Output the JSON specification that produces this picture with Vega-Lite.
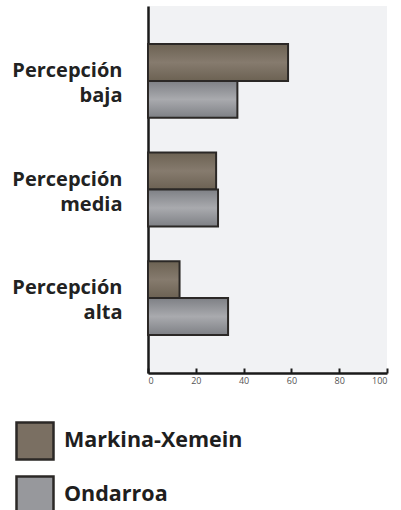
{
  "$schema": "https://vega.github.io/schema/vega-lite/v6.json",
  "width": 239,
  "height": 367,
  "autosize": {"type": "none"},
  "padding": {"left": 148, "top": 6, "right": 14, "bottom": 137},
  "background": "white",
  "config": {
    "view": {"fill": "#f1f2f4", "stroke": null},
    "font": "Open Sans"
  },
  "data": {
    "values": [
      {"cat": "Percepción baja", "serie": "Markina-Xemein", "v": 58.6},
      {"cat": "Percepción baja", "serie": "Ondarroa", "v": 37.4},
      {"cat": "Percepción media", "serie": "Markina-Xemein", "v": 28.5},
      {"cat": "Percepción media", "serie": "Ondarroa", "v": 29.3},
      {"cat": "Percepción alta", "serie": "Markina-Xemein", "v": 13.2},
      {"cat": "Percepción alta", "serie": "Ondarroa", "v": 33.5}
    ]
  },
  "encoding": {
    "y": {
      "field": "cat", "type": "nominal",
      "sort": ["Percepción baja", "Percepción media", "Percepción alta"],
      "scale": {"paddingInner": 0.32, "paddingOuter": 0.35},
      "axis": {
        "title": null, "ticks": false, "domainColor": "#1a1a1a", "domainWidth": 2.5,
        "labelFont": "Open Sans", "labelFontWeight": "bold", "labelFontSize": 20,
        "labelColor": "#222222", "labelPadding": 26, "labelLineHeight": 25,
        "labelExpr": "split(datum.label, ' ')", "labelAlign": "right", "labelBaseline": "middle",
        "labelOffset": -10
      }
    },
    "yOffset": {"field": "serie", "type": "nominal", "scale": {"domain": ["Markina-Xemein", "Ondarroa"]}},
    "x": {
      "field": "v", "type": "quantitative",
      "scale": {"domain": [0, 100], "nice": false},
      "axis": {
        "title": null, "values": [0, 20, 40, 60, 80, 100], "grid": false,
        "domainColor": "#1a1a1a", "domainWidth": 2.5, "tickColor": "#1a1a1a", "tickWidth": 2,
        "tickSize": -5, "labelPadding": 8, "labelFontSize": 9, "labelColor": "#555555",
        "labelFont": "Open Sans"
      }
    }
  },
  "layer": [
    {
      "transform": [{"filter": "datum.serie == 'Markina-Xemein'"}],
      "mark": {"type": "bar", "stroke": "#2b2826", "strokeWidth": 2, "opacity": 1,
        "color": {"gradient": "linear", "x1": 0, "y1": 0, "x2": 0, "y2": 1,
          "stops": [{"offset": 0, "color": "#6c6253"}, {"offset": 0.5, "color": "#867b6e"}, {"offset": 1, "color": "#6c6253"}]}}
    },
    {
      "transform": [{"filter": "datum.serie == 'Ondarroa'"}],
      "mark": {"type": "bar", "stroke": "#2b2826", "strokeWidth": 2, "opacity": 1,
        "color": {"gradient": "linear", "x1": 0, "y1": 0, "x2": 0, "y2": 1,
          "stops": [{"offset": 0, "color": "#7e8085"}, {"offset": 0.5, "color": "#a9aaae"}, {"offset": 1, "color": "#7e8085"}]}}
    },
    {
      "mark": {"type": "point", "filled": true, "size": 0, "opacity": 0},
      "encoding": {
        "color": {
          "field": "serie", "type": "nominal",
          "scale": {"domain": ["Markina-Xemein", "Ondarroa"], "range": ["#7a6f62", "#97989c"]},
          "legend": {
            "title": null, "orient": "none", "legendX": -133, "legendY": 415,
            "symbolType": "square", "symbolSize": 1369, "symbolStrokeColor": "#2b2826",
            "symbolStrokeWidth": 2.5, "symbolOpacity": 1,
            "labelFont": "Open Sans", "labelFontWeight": "bold", "labelFontSize": 21.5,
            "labelColor": "#1e1e1e", "labelOffset": 9, "rowPadding": 6, "labelLimit": 300,
            "encode": {
              "symbols": {
                "update": {
                  "fill": {"signal": "datum.value == 'Ondarroa' ? {gradient: 'linear', x1: 0, y1: 0, x2: 1, y2: 0, stops: [{offset: 0, color: '#85878c'}, {offset: 0.45, color: '#aeafb3'}, {offset: 1, color: '#85878c'}]} : {gradient: 'linear', x1: 0, y1: 0, x2: 1, y2: 0, stops: [{offset: 0, color: '#6e6456'}, {offset: 0.45, color: '#8a7f72'}, {offset: 1, color: '#6e6456'}]}"},
                  "stroke": {"value": "#2b2826"},
                  "strokeWidth": {"value": 2.5},
                  "opacity": {"value": 1}
                }
              }
            }
          }
        }
      }
    }
  ]
}
